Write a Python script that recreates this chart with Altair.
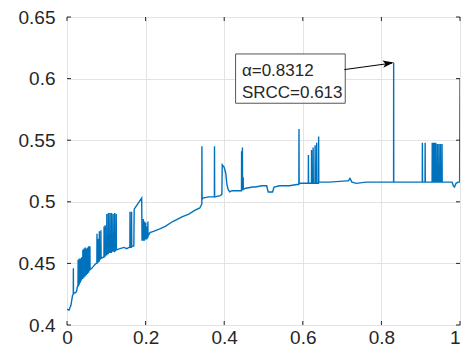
import altair as alt
import pandas as pd

# ---- data ----
xs = [
    0.000, 0.005, 0.010, 0.014,
    0.016, 0.0162, 0.0165,
    0.020, 0.024, 0.027,
    0.028, 0.0283, 0.0287,
    0.031, 0.0313, 0.0317,
    0.034, 0.0343, 0.0347,
    0.037, 0.0373, 0.0377,
    0.040, 0.0403, 0.0407,
    0.043, 0.0433, 0.0437,
    0.046, 0.0463, 0.0467,
    0.049, 0.0493, 0.0497,
    0.052, 0.0523, 0.0527,
    0.055, 0.0553, 0.0557,
    0.058, 0.0583, 0.0587,
    0.063, 0.068, 0.074,
    0.076, 0.0763, 0.0767,
    0.079, 0.0793, 0.0797,
    0.082, 0.0823, 0.0827,
    0.086, 0.0863, 0.0867,
    0.092,
    0.094, 0.0943, 0.0947,
    0.097, 0.0973, 0.0977,
    0.101, 0.1013, 0.1017,
    0.105, 0.1053, 0.1057,
    0.109, 0.1093, 0.1097,
    0.113, 0.1133, 0.1137,
    0.117, 0.1173, 0.1177,
    0.121, 0.1213, 0.1217,
    0.125, 0.1253, 0.1257,
    0.135, 0.145, 0.152, 0.158,
    0.160, 0.1603, 0.1607,
    0.164, 0.1643, 0.1647,
    0.170, 0.171, 0.190, 0.191,
    0.194, 0.1943, 0.1947,
    0.197, 0.1973, 0.1977,
    0.200, 0.2003, 0.2007,
    0.203, 0.2033, 0.2037,
    0.2055, 0.2058, 0.2061,
    0.211, 0.220, 0.236, 0.250, 0.269, 0.294, 0.310, 0.325, 0.338, 0.341,
    0.343, 0.3433, 0.3437,
    0.346, 0.360,
    0.375, 0.3753, 0.3757,
    0.390, 0.394,
    0.395, 0.400, 0.404, 0.407, 0.410, 0.414,
    0.420, 0.440,
    0.444, 0.4443, 0.4447,
    0.446, 0.4463, 0.4467,
    0.448, 0.4483, 0.4487,
    0.455, 0.472, 0.480, 0.495, 0.505,
    0.508, 0.512, 0.523, 0.527,
    0.541, 0.566, 0.585,
    0.590, 0.5903, 0.5907,
    0.600, 0.609,
    0.614, 0.6143, 0.6147,
    0.622, 0.6223, 0.6227,
    0.626, 0.6263, 0.6267,
    0.631, 0.6313, 0.6317,
    0.635, 0.6353, 0.6357,
    0.640, 0.6403, 0.6407,
    0.667, 0.711, 0.716, 0.720, 0.725, 0.736, 0.761, 0.800,
    0.8310, 0.8312, 0.8314,
    0.870,
    0.904, 0.9043, 0.9047,
    0.911, 0.9113, 0.9117,
    0.929, 0.9293, 0.9297,
    0.932, 0.9323, 0.9327,
    0.935, 0.9353, 0.9357,
    0.938, 0.9383, 0.9387,
    0.942, 0.9423, 0.9427,
    0.946, 0.9463, 0.9467,
    0.950, 0.9503, 0.9507,
    0.954, 0.9543, 0.9547,
    0.960, 0.980, 0.983, 0.986, 0.990, 0.995, 0.999, 1.000,
]
ys = [
    0.413, 0.412, 0.416, 0.424,
    0.425, 0.446, 0.426,
    0.426, 0.427, 0.432,
    0.431, 0.453, 0.432,
    0.433, 0.454, 0.434,
    0.435, 0.454, 0.436,
    0.437, 0.455, 0.438,
    0.438, 0.461, 0.439,
    0.439, 0.462, 0.440,
    0.440, 0.463, 0.441,
    0.441, 0.462, 0.442,
    0.442, 0.463, 0.443,
    0.443, 0.464, 0.444,
    0.445, 0.464, 0.445,
    0.446, 0.448, 0.450,
    0.450, 0.474, 0.451,
    0.451, 0.470, 0.452,
    0.452, 0.476, 0.453,
    0.454, 0.477, 0.454,
    0.455,
    0.455, 0.480, 0.456,
    0.456, 0.481, 0.457,
    0.457, 0.490, 0.458,
    0.458, 0.491, 0.459,
    0.459, 0.491, 0.459,
    0.459, 0.491, 0.460,
    0.460, 0.490, 0.460,
    0.460, 0.491, 0.460,
    0.461, 0.490, 0.461,
    0.462, 0.463, 0.462, 0.463,
    0.463, 0.492, 0.463,
    0.463, 0.492, 0.464,
    0.464, 0.494, 0.503, 0.469,
    0.469, 0.486, 0.469,
    0.469, 0.484, 0.470,
    0.470, 0.483, 0.470,
    0.470, 0.480, 0.471,
    0.471, 0.484, 0.472,
    0.475, 0.476, 0.478, 0.480, 0.484, 0.488, 0.490, 0.493, 0.495, 0.497,
    0.498, 0.545, 0.502,
    0.503, 0.504,
    0.504, 0.545, 0.504,
    0.505, 0.506,
    0.530, 0.528, 0.523, 0.514, 0.510, 0.508,
    0.509, 0.509,
    0.509, 0.541, 0.510,
    0.510, 0.544, 0.510,
    0.510, 0.520, 0.510,
    0.511, 0.512, 0.512, 0.513, 0.513,
    0.513, 0.508, 0.508, 0.512,
    0.513, 0.513, 0.514,
    0.514, 0.559, 0.515,
    0.515, 0.515,
    0.515, 0.538, 0.515,
    0.515, 0.542, 0.515,
    0.515, 0.544, 0.515,
    0.515, 0.546, 0.515,
    0.515, 0.548, 0.515,
    0.515, 0.553, 0.516,
    0.516, 0.517, 0.517, 0.519, 0.516, 0.515, 0.516, 0.516,
    0.516, 0.613, 0.516,
    0.516,
    0.516, 0.548, 0.516,
    0.516, 0.548, 0.516,
    0.516, 0.548, 0.516,
    0.516, 0.548, 0.516,
    0.516, 0.548, 0.516,
    0.516, 0.548, 0.516,
    0.516, 0.547, 0.516,
    0.516, 0.547, 0.516,
    0.516, 0.547, 0.516,
    0.516, 0.547, 0.516,
    0.516, 0.516, 0.513, 0.512, 0.515, 0.516, 0.516, 0.600,
]
x_ticks = [0, 0.2, 0.4, 0.6, 0.8, 1]
y_ticks = [0.4, 0.45, 0.5, 0.55, 0.6, 0.65]
note_lines = ["α=0.8312", "SRCC=0.613"]
peak_x, peak_y = 0.8312, 0.613

W, H = 393, 308
FONT = "Liberation Sans"
TXT = "#262626"

df = pd.DataFrame({"x": xs, "y": ys, "i": range(len(xs))})

xs_ = alt.Scale(domain=[0, 1], nice=False, zero=False)
ys_ = alt.Scale(domain=[0.4, 0.65], nice=False, zero=False)

base = alt.Chart(df)

axis_common = dict(grid=True, tickSize=0, domain=False, labelFont=FONT,
                   labelFontSize=19, labelColor=TXT, gridColor="#e3e3e3", gridWidth=1)

line = base.mark_line(color="#0072BD", strokeWidth=1.4, clip=True).encode(
    x=alt.X("x:Q", scale=xs_, title=None,
            axis=alt.Axis(values=x_ticks, format=".1~f", labelPadding=3,
                          labelAlign={"condition": {"test": "datum.value >= 1", "value": "right"},
                                      "value": "center"},
                          **axis_common)),
    y=alt.Y("y:Q", scale=ys_, title=None,
            axis=alt.Axis(values=y_ticks, format=".2~f", labelPadding=12, **axis_common)),
    order="i:Q",
)

# inward ticks on all four sides
xt = pd.DataFrame({"x": x_ticks})
yt = pd.DataFrame({"y": y_ticks})
tick_style = dict(color=TXT, strokeWidth=1)
t_bottom = alt.Chart(xt).mark_rule(**tick_style).encode(
    x=alt.X("x:Q", scale=xs_), y=alt.value(H), y2=alt.value(H - 4))
t_top = alt.Chart(xt).mark_rule(**tick_style).encode(
    x=alt.X("x:Q", scale=xs_), y=alt.value(0), y2=alt.value(4))
t_left = alt.Chart(yt).mark_rule(**tick_style).encode(
    y=alt.Y("y:Q", scale=ys_), x=alt.value(0), x2=alt.value(4))
t_right = alt.Chart(yt).mark_rule(**tick_style).encode(
    y=alt.Y("y:Q", scale=ys_), x=alt.value(W), x2=alt.value(W - 4))

# annotation box
box_df = pd.DataFrame({"x": [0.429], "x2": [0.708], "y": [0.580], "y2": [0.620]})
box = alt.Chart(box_df).mark_rect(fill="white", stroke="#555555", strokeWidth=1).encode(
    x=alt.X("x:Q", scale=xs_), x2="x2:Q", y=alt.Y("y:Q", scale=ys_), y2="y2:Q")

txt_df = pd.DataFrame({"x": [0.445, 0.445], "y": [0.6065, 0.5885], "t": note_lines})
txt = alt.Chart(txt_df).mark_text(align="left", baseline="middle", font=FONT,
                                  fontSize=17, color=TXT).encode(
    x=alt.X("x:Q", scale=xs_), y=alt.Y("y:Q", scale=ys_), text="t:N")

arr_df = pd.DataFrame({"x": [0.7056, peak_x - 0.004], "y": [0.6073, peak_y - 0.0004], "k": [0, 1]})
arrow_line = alt.Chart(arr_df).mark_line(color="black", strokeWidth=1).encode(
    x=alt.X("x:Q", scale=xs_), y=alt.Y("y:Q", scale=ys_), order="k:Q")
head_df = pd.DataFrame({"x": [peak_x], "y": [peak_y]})
arrow_head = alt.Chart(head_df).mark_point(
    shape="M0,0 L-2,-0.65 L-1.5,0 L-2,0.65 Z", filled=True, color="black",
    size=121, angle=352, opacity=1).encode(
    x=alt.X("x:Q", scale=xs_), y=alt.Y("y:Q", scale=ys_))

chart = alt.layer(line, t_bottom, t_top, t_left, t_right, box, arrow_line, arrow_head, txt).properties(
    width=W, height=H,
    background="white",
    autosize=alt.AutoSizeParams(type="none"),
    padding={"left": 59, "top": 9, "right": 1, "bottom": 23},
).configure_view(stroke=TXT, strokeWidth=1)

chart.save("out.html", embed_options={"renderer": "svg", "actions": False})
